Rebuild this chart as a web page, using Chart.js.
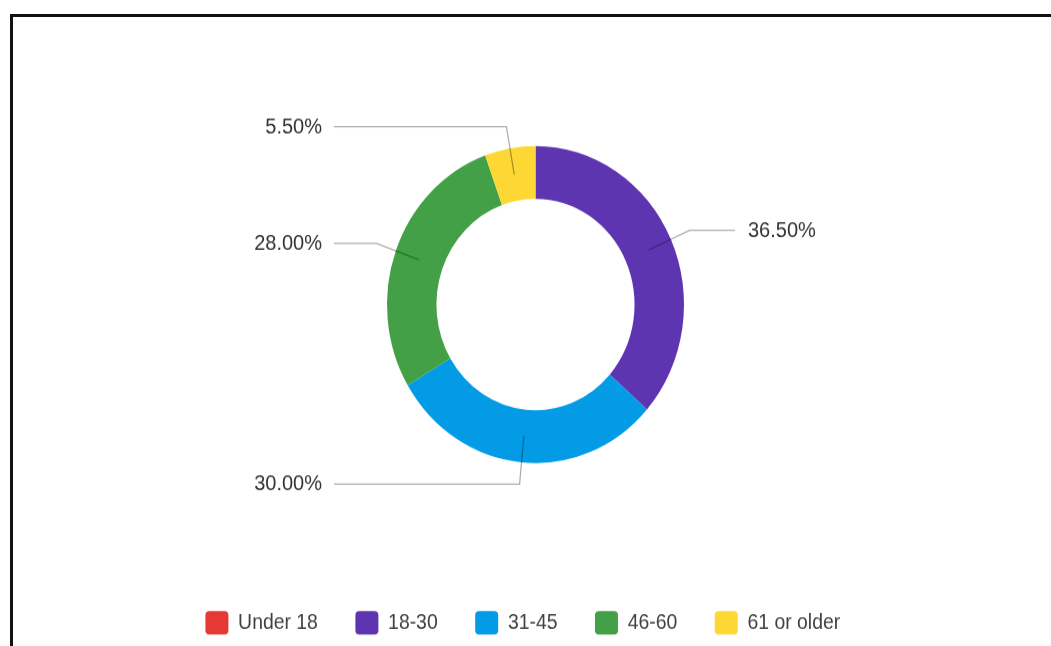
<!DOCTYPE html>
<html>
<head>
<meta charset="utf-8">
<script src="https://cdn.jsdelivr.net/npm/chart.js@4/dist/chart.umd.min.js"></script>
<style>
  html, body { margin: 0; padding: 0; background: #fff; }
  body { width: 1051px; height: 646px; overflow: hidden; position: relative; }
  #stage {
    position: absolute; left: 0; top: 0; width: 1051px; height: 605px;
    transform: scaleY(1.0678); transform-origin: 0 0;
  }
  #frame {
    position: absolute; left: 10px; top: 14px; width: 1100px; height: 700px;
    border-left: 3px solid #111; border-top: 3px solid #111;
    pointer-events: none;
  }
</style>
</head>
<body>
<div id="stage"><canvas id="chart" width="1051" height="605"></canvas></div>
<div id="frame"></div>
<script>
// Age groups of respondents and their share (%)
const ageGroups = ['Under 18', '18-30', '31-45', '46-60', '61 or older'];
const shares = [0, 36.5, 30.0, 28.0, 5.5];
const groupColors = ['#E53935', '#5E35B1', '#039BE5', '#43A047', '#FDD835'];

const FONT = "'Liberation Sans', Arial, sans-serif";

// Percentage callouts with elbow leader lines
const calloutPlugin = {
  id: 'callouts',
  afterDatasetsDraw(chart) {
    const ctx = chart.ctx;
    const meta = chart.getDatasetMeta(0);
    ctx.save();
    meta.data.forEach((arc, i) => {
      const v = shares[i];
      if (!v) return;
      const p = arc.getProps(['x', 'y', 'startAngle', 'endAngle', 'innerRadius', 'outerRadius'], true);
      const mid = (p.startAngle + p.endAngle) / 2;
      const c = Math.cos(mid), s = Math.sin(mid);
      const r0 = (p.innerRadius + p.outerRadius) / 2;
      const r1 = p.outerRadius + 20.5;
      const sx = p.x + c * r0, sy = p.y + s * r0;
      const ex = p.x + c * r1, ey = p.y + s * r1;
      const right = c >= 0;
      const lx = right ? p.x + p.outerRadius + 51 : p.x - p.outerRadius - 53;

      ctx.beginPath();
      ctx.moveTo(sx, sy);
      ctx.lineTo(ex, ey);
      ctx.lineTo(lx, ey);
      ctx.strokeStyle = 'rgba(0,0,0,0.32)';
      ctx.lineWidth = 1.3;
      ctx.stroke();

      ctx.font = '20px ' + FONT;
      ctx.fillStyle = '#333';
      ctx.textBaseline = 'middle';
      ctx.textAlign = right ? 'left' : 'right';
      ctx.fillText(v.toFixed(2) + '%', right ? lx + 13 : lx - 12, ey + 0.5);
    });
    ctx.restore();
  }
};

// Nudge the legend row slightly left of the ring's centre line
const legendNudge = {
  id: 'legendNudge',
  afterLayout(chart) {
    const lg = chart.legend;
    if (lg) { lg.left -= 12.7; lg.right -= 12.7; }
  }
};

new Chart(document.getElementById('chart'), {
  type: 'doughnut',
  data: {
    labels: ageGroups,
    datasets: [{
      data: shares,
      backgroundColor: groupColors,
      borderWidth: 0,
      radius: 148.5,
      hoverOffset: 0
    }]
  },
  options: {
    responsive: false,
    animation: false,
    cutout: '66.7%',
    layout: { padding: { top: 35.7, bottom: 0.8, left: 20, right: 0 } },
    plugins: {
      tooltip: { enabled: false },
      legend: {
        position: 'bottom',
        labels: {
          boxWidth: 23,
          boxHeight: 22,
          useBorderRadius: true,
          borderRadius: 4,
          padding: 37.5,
          color: '#404040',
          font: { family: FONT, size: 19.4 }
        }
      }
    }
  },
  plugins: [calloutPlugin, legendNudge]
});
</script>
</body>
</html>
